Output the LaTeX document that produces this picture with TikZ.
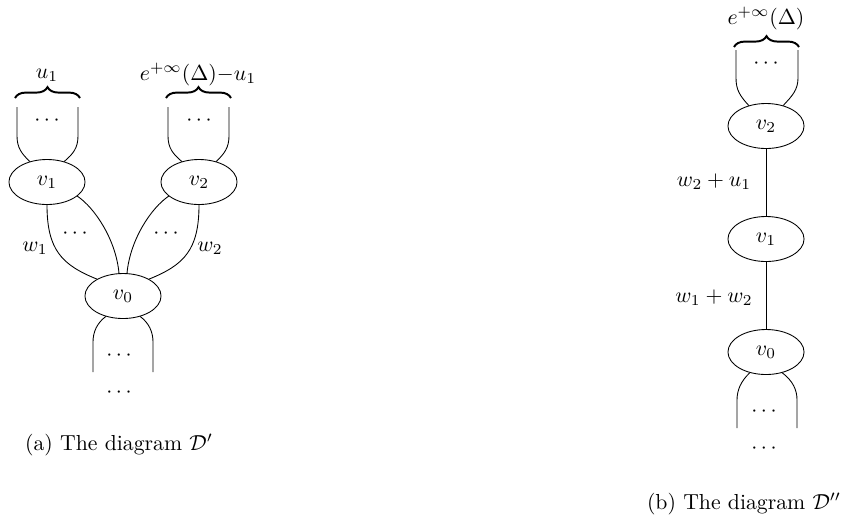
\documentclass[tikz,border=0pt]{standalone}
\usetikzlibrary{shapes.geometric,decorations.pathreplacing}
\begin{document}
\begin{tikzpicture}[x=0.46pt,y=-0.46pt,
  vtx/.style={draw, ellipse, minimum width=35pt, minimum height=20.7pt, inner sep=0pt},
  lbl/.style={inner sep=0pt},
  brc/.style={decorate, decoration={brace, amplitude=5pt}, line width=0.9pt},
  dts/.style={inner sep=0pt}]
\useasboundingbox (0,0) rectangle (862,516);

% ---------------- (a) ----------------
\node[vtx] (a1) at (47,182) {$v_1$};
\node[vtx] (a2) at (199,182) {$v_2$};
\node[vtx] (a0) at (123,296) {$v_0$};

\coordinate (a1tl) at (17,107);
\coordinate (a1tr) at (78,107);
\coordinate (a2tl) at (168,107);
\coordinate (a2tr) at (229,107);
\draw (a1.130) .. controls (22,154) and (17,148) .. (17,136) -- (a1tl);
\draw (a1.50) .. controls (73,154) and (78,148) .. (78,136) -- (a1tr);
\draw (a2.130) .. controls (173,154) and (168,148) .. (168,136) -- (a2tl);
\draw (a2.50) .. controls (224,154) and (229,148) .. (229,136) -- (a2tr);

\node[dts] (d1) at (47,121) {$\cdots$};
\node[dts] (d2) at (199,121) {$\cdots$};

\draw[brc] (15,98) -- (80,98);
\draw[brc] (166,98) -- (231,98);
\node[lbl, anchor=base] (lu) at (47,78) {$u_1$};
\node[lbl, anchor=base] (le) at (198,80) {$e^{+\infty}(\Delta){-}u_1$};

% edges v1,v2 -> v0
\draw (a1.south) .. controls (47,250) and (62,265) .. (a0.147);
\draw (a1.-25) .. controls (95,208) and (116,240) .. (a0.100);
\draw (a2.205) .. controls (151,208) and (130,240) .. (a0.80);
\draw (a2.south) .. controls (199,250) and (184,265) .. (a0.33);
\node[dts] (d3) at (75,234) {$\cdots$};
\node[dts] (d4) at (166,234) {$\cdots$};
\node[lbl] (w1) at (35,248) {$w_1$};
\node[lbl] (w2) at (210,248) {$w_2$};

% below v0
\coordinate (a0bl) at (93,372);
\coordinate (a0br) at (153,372);
\draw (a0.230) .. controls (97,323) and (93,332) .. (93,342) -- (a0bl);
\draw (a0.-50) .. controls (149,323) and (153,332) .. (153,342) -- (a0br);
\node[dts] (d5) at (119,356) {$\cdots$};
\node[dts] (d6) at (119,393) {$\cdots$};

\node[lbl, anchor=base] (capa) at (119,450) {(a) The diagram $\mathcal{D}'$};

% ---------------- (b) ----------------
\node[vtx] (b2) at (766,126) {$v_2$};
\node[vtx] (b1) at (766,239) {$v_1$};
\node[vtx] (b0) at (766,352) {$v_0$};

\coordinate (b2tl) at (736,50);
\coordinate (b2tr) at (798,50);
\draw (b2.130) .. controls (740,96) and (736,90) .. (736,78) -- (b2tl);
\draw (b2.50) .. controls (792,96) and (798,90) .. (798,78) -- (b2tr);
\node[dts] (d7) at (766,64) {$\cdots$};
\draw[brc] (734,47) -- (799,47);
\node[lbl, anchor=base] (le2) at (766,24) {$e^{+\infty}(\Delta)$};

\draw (b2.south) -- (b1.north);
\draw (b1.south) -- (b0.north);
\node[lbl] (l21) at (714,182) {$w_2+u_1$};
\node[lbl] (l12) at (714,298) {$w_1+w_2$};

\coordinate (b0bl) at (737,428);
\coordinate (b0br) at (797,428);
\draw (b0.-128) .. controls (741,381) and (737,390) .. (737,400) -- (b0bl);
\draw (b0.-52) .. controls (793,381) and (797,390) .. (797,400) -- (b0br);
\node[dts] (d8) at (764,412) {$\cdots$};
\node[dts] (d9) at (764,449) {$\cdots$};

\node[lbl, anchor=base] (capb) at (744,509) {(b) The diagram $\mathcal{D}''$};
\end{tikzpicture}
\end{document}
